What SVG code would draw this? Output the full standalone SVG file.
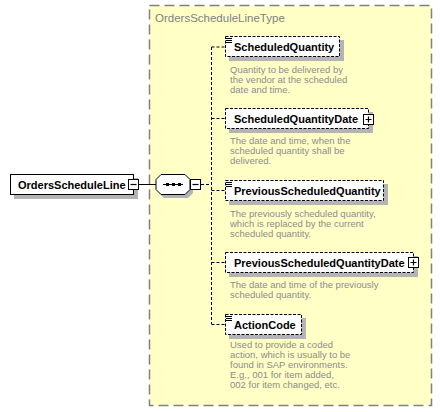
<svg xmlns="http://www.w3.org/2000/svg" width="442" height="412" viewBox="0 0 442 412">
<style>
.bold{font-family:"Liberation Sans",Arial,sans-serif;font-weight:bold;font-size:11px;fill:#000}
.desc{font-family:"Liberation Sans",Arial,sans-serif;font-size:9.5px;fill:#8c8c8c}
.title{font-family:"Liberation Sans",Arial,sans-serif;font-size:11.5px;fill:#7f7f7f}
.shadow{fill:#b4b4b4}
.el{fill:#fff;stroke:#000;stroke-width:1;stroke-dasharray:3,1.5}
.conn{stroke:#000;stroke-width:1;fill:none;stroke-dasharray:3,2}
.btn{fill:#fff;stroke:#000;stroke-width:1}
.sign{stroke:#000;stroke-width:1.2}
</style>
<g id="type">
<rect x="149.5" y="5.5" width="282" height="400" fill="#ffffc6" stroke="#808080" stroke-width="1.5" stroke-dasharray="10,5"/>
<text class="title" x="155" y="22">OrdersScheduleLineType</text>
</g>
<g id="connectors">
<line x1="139" y1="184.5" x2="156" y2="184.5" stroke="#000" stroke-width="1"/>
<path class="conn" d="M201,184.5 H211.5 M211.5,47 V324 M211.5,47 H225 M211.5,118.5 H225 M211.5,190.5 H225 M211.5,262.5 H225 M211.5,324.5 H225"/>
</g>
<g id="OrdersScheduleLine">
<rect class="shadow" x="14" y="178" width="124" height="21"/>
<rect x="10.5" y="174.5" width="123" height="20" fill="#fff" stroke="#000"/>
<text class="bold" x="18" y="189">OrdersScheduleLine</text>
<rect class="btn" x="128.5" y="179.5" width="10" height="10"/>
<line class="sign" x1="130.5" y1="184.5" x2="136.5" y2="184.5"/>
</g>
<g id="sequence">
<polygon class="shadow" points="164,178 188,178 193,183 193,193 188,198 164,198 159,193 159,183"/>
<polygon points="161,174.5 185,174.5 190,179.5 190,189.5 185,194.5 161,194.5 156,189.5 156,179.5" fill="#fff" stroke="#000"/>
<line x1="163" y1="184.5" x2="183" y2="184.5" stroke="#000"/>
<rect x="166" y="183" width="3" height="3"/>
<rect x="172" y="183" width="3" height="3"/>
<rect x="178" y="183" width="3" height="3"/>
<rect class="btn" x="190.5" y="179.5" width="10" height="10"/>
<line class="sign" x1="192.5" y1="184.5" x2="198.5" y2="184.5"/>
</g>
<g id="ScheduledQuantity">
<rect class="shadow" x="229" y="40" width="115" height="21"/>
<rect class="el" x="225.5" y="36.5" width="114" height="20"/>
<path d="M226,38.5 H232 M226,40.5 H232 M226,42.5 H232" stroke="#000" stroke-width="1"/>
<text class="bold" x="234" y="51">ScheduledQuantity</text>
<text class="desc" x="230" y="73">Quantity to be delivered by</text>
<text class="desc" x="230" y="83">the vendor at the scheduled</text>
<text class="desc" x="230" y="93">date and time.</text>
</g>
<g id="ScheduledQuantityDate">
<rect class="shadow" x="229" y="112" width="144" height="21"/>
<rect class="el" x="225.5" y="108.5" width="143" height="20"/>
<text class="bold" x="234" y="123">ScheduledQuantityDate</text>
<rect class="btn" x="363.5" y="114.5" width="10" height="10"/>
<path class="sign" d="M365.5,119.5 H371.5 M368.5,116.5 V122.5"/>
<text class="desc" x="230" y="144">The date and time, when the</text>
<text class="desc" x="230" y="154">scheduled quantity shall be</text>
<text class="desc" x="230" y="164">delivered.</text>
</g>
<g id="PreviousScheduledQuantity">
<rect class="shadow" x="229" y="184" width="159" height="21"/>
<rect class="el" x="225.5" y="180.5" width="158" height="20"/>
<path d="M226,182.5 H232 M226,184.5 H232 M226,186.5 H232" stroke="#000" stroke-width="1"/>
<text class="bold" x="234" y="195">PreviousScheduledQuantity</text>
<text class="desc" x="230" y="217">The previously scheduled quantity,</text>
<text class="desc" x="230" y="227">which is replaced by the current</text>
<text class="desc" x="230" y="237">scheduled quantity.</text>
</g>
<g id="PreviousScheduledQuantityDate">
<rect class="shadow" x="229" y="256" width="189" height="21"/>
<rect class="el" x="225.5" y="252.5" width="188" height="20"/>
<text class="bold" x="234" y="267">PreviousScheduledQuantityDate</text>
<rect class="btn" x="408.5" y="257.5" width="10" height="10"/>
<path class="sign" d="M410.5,262.5 H416.5 M413.5,259.5 V265.5"/>
<text class="desc" x="230" y="288">The date and time of the previously</text>
<text class="desc" x="230" y="298">scheduled quantity.</text>
</g>
<g id="ActionCode">
<rect class="shadow" x="229" y="318" width="77" height="21"/>
<rect class="el" x="225.5" y="314.5" width="76" height="20"/>
<path d="M226,316.5 H232 M226,318.5 H232 M226,320.5 H232" stroke="#000" stroke-width="1"/>
<text class="bold" x="234" y="329">ActionCode</text>
<text class="desc" x="230" y="348">Used to provide a coded</text>
<text class="desc" x="230" y="358">action, which is usually to be</text>
<text class="desc" x="230" y="368">found in SAP environments.</text>
<text class="desc" x="230" y="378">E.g., 001 for item added,</text>
<text class="desc" x="230" y="388">002 for item changed, etc.</text>
</g>
</svg>
